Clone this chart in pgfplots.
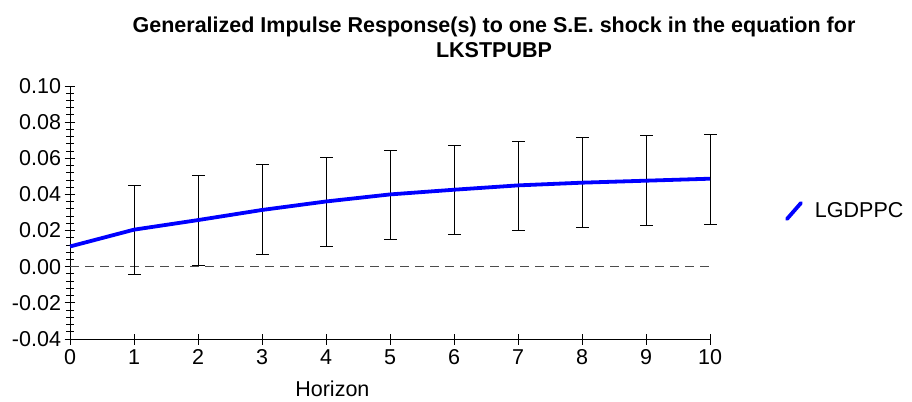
\documentclass[border=0pt]{standalone}
\usepackage{fontspec}
\setmainfont{Liberation Sans}
\usepackage{pgfplots}
\pgfplotsset{compat=1.18}
\usepackage{pgfplotstable}

\pgfplotstableread{
x y
0 0.0112
1 0.0205
2 0.0258
3 0.0314
4 0.0361
5 0.0400
6 0.0426
7 0.0450
8 0.0465
9 0.0476
10 0.0487
}\response

% confidence bands: lower and upper end of each bar, separated by nan
\pgfplotstableread{
x y
1 -0.0044
1 0.0452
1 nan
2 0.0006
2 0.0502
2 nan
3 0.0065
3 0.0563
3 nan
4 0.0111
4 0.0607
4 nan
5 0.0149
5 0.0644
5 nan
6 0.0177
6 0.0673
6 nan
7 0.0199
7 0.0693
7 nan
8 0.0216
8 0.0714
8 nan
9 0.0229
9 0.0725
9 nan
10 0.0236
10 0.0732
}\bands

\begin{document}
\begin{tikzpicture}
\path[use as bounding box] (-70bp,-63bp) rectangle (842bp,339bp);
\node[align=center, font=\bfseries\fontsize{21.5bp}{25bp}\selectfont, anchor=base] at (424bp,281bp) {Generalized Impulse Response(s) to one S.E. shock in the equation for\\LKSTPUBP};
\begin{axis}[
  at={(0,0)}, anchor=south west,
  scale only axis, width=640bp, height=253bp,
  xmin=0, xmax=10, ymin=-0.04, ymax=0.10,
  axis x line=bottom, axis y line=left,
  axis line style={-, black, line width=0.9bp},
  xtick={0,1,2,3,4,5,6,7,8,9,10},
  ytick={-0.04,-0.02,0,0.02,0.04,0.06,0.08,0.10},
  minor y tick num=4,
  tick align=center,
  major tick length=11bp, minor tick length=8bp,
  every tick/.style={black, line width=0.9bp},
  scaled y ticks=false,
  yticklabel style={/pgf/number format/.cd, fixed, fixed zerofill, precision=2},
  /pgf/number format/assume math mode=true,
  ticklabel style={font=\fontsize{21.5bp}{24bp}\selectfont},
  xticklabel style={yshift=-1.5bp},
  xlabel={Horizon},
  xlabel style={font=\fontsize{21.5bp}{24bp}\selectfont, at={(axis description cs:0.41,-0.229)}, anchor=base},
  legend style={draw=none, fill=none, at={(1.117,0.506)}, anchor=west, inner sep=0pt, font=\fontsize{21.5bp}{24bp}\selectfont},
  legend image code/.code={\draw[#1, line cap=round] (0bp,-8bp) -- (14bp,8bp); \path[draw=none] (0bp,0bp) -- (26bp,0bp);},
  unbounded coords=jump,
  clip=false,
]
\addplot[forget plot, black!70, line width=1.3bp, dash pattern=on 9bp off 6bp] coordinates {(0,0) (10,0)};
\addplot[forget plot, black, line width=1bp, mark=-, mark size=6.5bp, mark options={line width=1bp}] table[x=x, y=y] {\bands};
\addplot[blue, line width=3.8bp, line join=round] table[x=x, y=y] {\response};
\addlegendentry{LGDPPC}
\end{axis}
\end{tikzpicture}
\end{document}
